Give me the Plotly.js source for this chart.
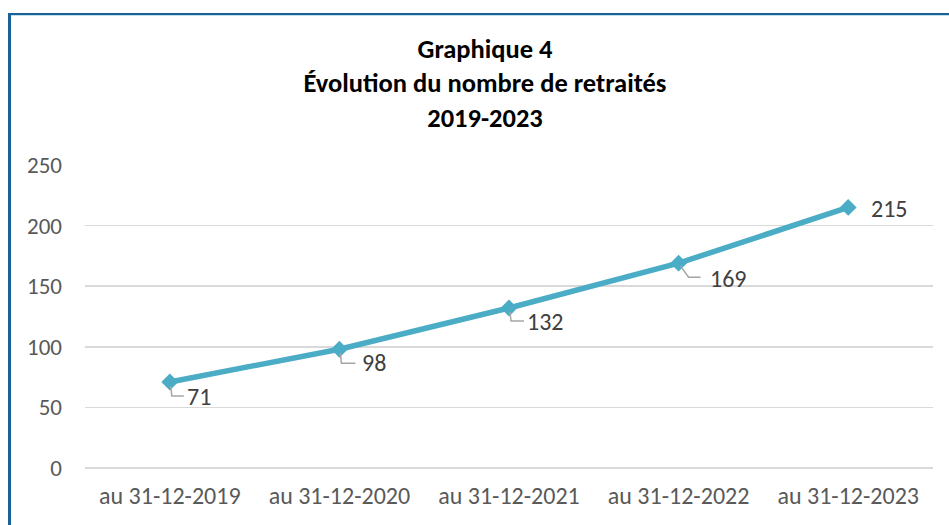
<!DOCTYPE html>
<html>
<head>
<meta charset="utf-8">
<script src="https://cdn.plot.ly/plotly-3.0.1.min.js"></script>
<style>
  html, body { margin: 0; padding: 0; background: #fff; }
  #wrap { position: relative; width: 949px; height: 525px; }
  #chart { position: absolute; left: 0; top: 0; width: 949px; height: 525px; }
  #frame { position: absolute; left: 8px; top: 13px; right: -5px; bottom: -5px;
           border-left: 3px solid #1b6196; border-top: 2px solid #1b6196;
           pointer-events: none; }
  #frame::after { content: ""; position: absolute; left: 0; right: 0; top: 0; height: 1px; background: #bfe0ef; }
</style>
</head>
<body>
<div id="wrap">
  <div id="chart"></div>
  <div id="frame"></div>
</div>
<script>
const categories = ["au 31-12-2019", "au 31-12-2020", "au 31-12-2021", "au 31-12-2022", "au 31-12-2023"];
const retraites = [71, 98, 132, 169, 215];
const yTicks = [0, 50, 100, 150, 200, 250];

// label placement (pixels, relative to each point) and leader-line style
const labelOffsets = [[29, 15], [35, 13], [36, 13], [50, 15], [41, 1]];
const leaderPaths = [
  "M 1 4 L 2 14 L 14 14",
  "M 1 4 L 2 14 L 16 14",
  "M 1 4 L 2 13 L 15 13",
  "M 2 3 L 10 14 L 22 14",
  null
];

const FONT = "Carlito, Calibri, Lato, 'Open Sans', sans-serif";

const trace = {
  type: "scatter",
  mode: "lines+markers",
  x: categories,
  y: retraites,
  line: { color: "#4bacc6", width: 5.5 },
  marker: { symbol: "diamond", size: 13, color: "#4bacc6" },
  hoverinfo: "skip"
};

const annotations = retraites.map((v, i) => ({
  x: categories[i], y: v, xref: "x", yref: "y",
  text: String(v), showarrow: false,
  xshift: labelOffsets[i][0], yshift: -labelOffsets[i][1],
  font: { family: FONT, size: 24, color: "#404040" }
}));

const shapes = [];
retraites.forEach((v, i) => {
  if (!leaderPaths[i]) return;
  shapes.push({
    type: "path", xref: "x", yref: "y",
    xsizemode: "pixel", ysizemode: "pixel",
    xanchor: i, yanchor: v,
    path: leaderPaths[i].replace(/(\d+) (\d+)/g, (m, a, b) => a + " " + (-b)),
    line: { color: "#a6a6a6", width: 1.5 }
  });
});

const layout = {
  width: 949, height: 525,
  margin: { l: 85, r: 16, t: 165, b: 57 },
  paper_bgcolor: "#ffffff", plot_bgcolor: "#ffffff",
  showlegend: false,
  title: {
    text: "<b>Graphique 4<br>Évolution du nombre de retraités<br>2019-2023</b>",
    x: 485 / 949, xanchor: "center", xref: "container",
    y: 1 - 58 / 525, yanchor: "top", yref: "container",
    font: { family: FONT, size: 26.5, color: "#000000" }
  },
  xaxis: {
    type: "category",
    range: [-0.5, 4.5],
    showgrid: false, showline: false, zeroline: false,
    ticks: "", ticklabelstandoff: 11,
    tickfont: { family: FONT, size: 24, color: "#595959" },
    fixedrange: true
  },
  yaxis: {
    range: [0, 250],
    tickvals: yTicks,
    showgrid: true, gridcolor: "#d9d9d9", gridwidth: 1.5,
    zeroline: true, zerolinecolor: "#d9d9d9", zerolinewidth: 1.5,
    showline: false, ticks: "", ticklabelstandoff: 22,
    tickfont: { family: FONT, size: 23, color: "#595959" },
    fixedrange: true
  },
  annotations: annotations,
  shapes: shapes
};

Plotly.newPlot("chart", [trace], layout, { displayModeBar: false, staticPlot: true });
</script>
</body>
</html>
